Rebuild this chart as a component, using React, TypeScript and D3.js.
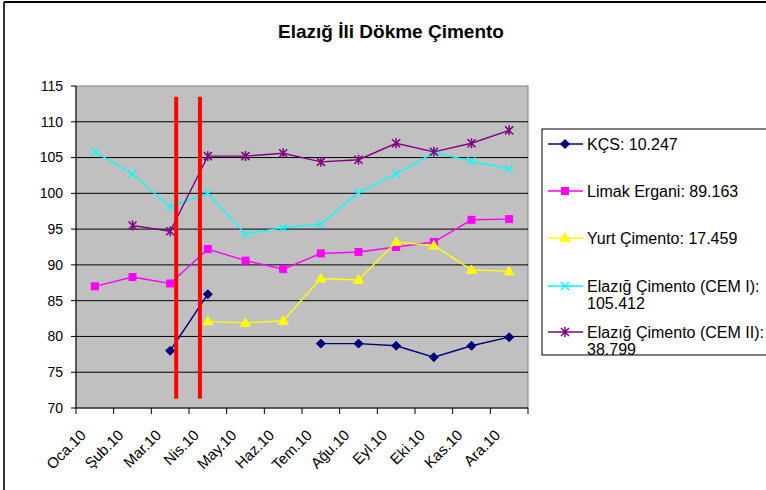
import React from 'react';
import * as d3 from 'd3';

const months = ['Oca.10', 'Şub.10', 'Mar.10', 'Nis.10', 'May.10', 'Haz.10', 'Tem.10', 'Ağu.10', 'Eyl.10', 'Eki.10', 'Kas.10', 'Ara.10'];
const yTicks = [70, 75, 80, 85, 90, 95, 100, 105, 110, 115];

const kcs = [null, null, 78.0, 85.9, null, null, 79.0, 79.0, 78.7, 77.1, 78.7, 79.9];
const limak = [87.0, 88.3, 87.4, 92.2, 90.6, 89.4, 91.6, 91.8, 92.5, 93.2, 96.3, 96.4];
const yurt = [null, null, null, 82.1, 81.9, 82.2, 88.1, 87.9, 93.2, 92.7, 89.3, 89.1];
const cem1 = [105.8, 102.7, 98.1, 100.0, 94.3, 95.2, 95.7, 100.1, 102.7, 105.7, 104.5, 103.4];
const cem2 = [null, 95.5, 94.7, 105.2, 105.2, 105.6, 104.4, 104.7, 107.0, 105.8, 107.0, 108.8];

// red markers, in category index units, and their value extent
const redLines = [2.66, 3.29];
const redExtent = [71.3, 113.5];

const series = [
  { name: 'KÇS: 10.247', values: kcs, color: '#000080', marker: 'diamond' },
  { name: 'Limak Ergani: 89.163', values: limak, color: '#FF00FF', marker: 'square' },
  { name: 'Yurt Çimento: 17.459', values: yurt, color: '#FFFF00', marker: 'triangle' },
  { name: 'Elazığ Çimento (CEM I):|105.412', values: cem1, color: '#00FFFF', marker: 'x' },
  { name: 'Elazığ Çimento (CEM II):|38.799', values: cem2, color: '#800080', marker: 'star' },
];

const Marker = ({ type, x, y, color }) => {
  if (type === 'diamond') {
    const s = 4.5;
    return <path d={`M${x},${y - s}L${x + s},${y}L${x},${y + s}L${x - s},${y}Z`} fill={color} stroke={color} />;
  }
  if (type === 'square') {
    return <rect x={x - 3.5} y={y - 3.5} width={7} height={7} fill={color} stroke={color} />;
  }
  if (type === 'triangle') {
    return <path d={`M${x},${y - 5}L${x + 5},${y + 3.5}L${x - 5},${y + 3.5}Z`} fill={color} stroke={color} />;
  }
  if (type === 'x') {
    const s = 4;
    return <path d={`M${x - s},${y - s}L${x + s},${y + s}M${x + s},${y - s}L${x - s},${y + s}`} stroke={color} strokeWidth={1.3} fill="none" />;
  }
  const s = 4;
  return <path d={`M${x - s},${y - s}L${x + s},${y + s}M${x + s},${y - s}L${x - s},${y + s}M${x},${y - s - 1}L${x},${y + s + 1}`} stroke={color} strokeWidth={1.5} fill="none" />;
};

export default function App() {
  const W = 766, H = 490;
  const plot = { left: 76, right: 528, top: 86, bottom: 408 };

  const x = d3.scaleBand().domain(months).range([plot.left, plot.right]).padding(0);
  const bw = x.bandwidth();
  const cx = (i) => x(months[i]) + bw / 2;
  const idx = d3.scaleLinear().domain([0, months.length]).range([plot.left, plot.right]);
  const y = d3.scaleLinear().domain([70, 115]).range([plot.bottom, plot.top]);

  const line = d3.line()
    .defined((d) => d != null)
    .x((d, i) => cx(i))
    .y((d) => y(d));

  const font = 'Liberation Sans, Arial, sans-serif';

  return (
    <svg width={W} height={H} style={{ position: 'absolute', left: 0, top: 0 }} fontFamily={font}>
      <rect x={0} y={0} width={W} height={H} fill="#fff" />
      <line x1={4} y1={2} x2={4} y2={H} stroke="#333" strokeWidth={2} />
      <line x1={4} y1={2} x2={W} y2={2} stroke="#000" strokeWidth={2} />

      <text x={391} y={38} textAnchor="middle" fontSize={19} fontWeight="bold">Elazığ İli Dökme Çimento</text>

      <rect x={plot.left} y={plot.top} width={plot.right - plot.left} height={plot.bottom - plot.top} fill="#C0C0C0" stroke="#808080" strokeWidth={1} />
      {yTicks.slice(1, -1).map((t) => (
        <line key={t} x1={plot.left} x2={plot.right} y1={y(t)} y2={y(t)} stroke="#000" strokeWidth={1} />
      ))}
      <line x1={plot.left} x2={plot.left} y1={plot.top} y2={plot.bottom} stroke="#000" />
      <line x1={plot.left} x2={plot.right} y1={plot.bottom} y2={plot.bottom} stroke="#000" />
      {yTicks.map((t) => (
        <g key={t}>
          <line x1={plot.left - 5} x2={plot.left} y1={y(t)} y2={y(t)} stroke="#000" />
          <text x={63} y={y(t)} dy="0.35em" textAnchor="end" fontSize={14}>{t}</text>
        </g>
      ))}
      {d3.range(months.length + 1).map((i) => (
        <line key={i} x1={idx(i)} x2={idx(i)} y1={plot.bottom} y2={plot.bottom + 6} stroke="#000" />
      ))}
      {months.map((m, i) => (
        <text key={m} transform={`translate(${cx(i) - 8},${plot.bottom + 28}) rotate(-45)`} textAnchor="end" fontSize={15}>{m}</text>
      ))}

      {series.map((s) => (
        <g key={s.name}>
          <path d={line(s.values)} fill="none" stroke={s.color} strokeWidth={1.4} />
          {s.values.map((v, i) => v == null ? null : <Marker key={i} type={s.marker} x={cx(i)} y={y(v)} color={s.color} />)}
        </g>
      ))}

      {redLines.map((r) => (
        <line key={r} x1={idx(r)} x2={idx(r)} y1={y(redExtent[1])} y2={y(redExtent[0])} stroke="#FF0000" strokeWidth={4} />
      ))}

      <rect x={542} y={129} width={W} height={226} fill="#fff" stroke="#000" strokeWidth={1} />
      {series.map((s, i) => {
        const ly = [144, 191, 238, 286, 332][i];
        const parts = s.name.split('|');
        return (
          <g key={s.name}>
            <line x1={548} x2={583} y1={ly} y2={ly} stroke={s.color} strokeWidth={1.4} />
            <Marker type={s.marker} x={565} y={ly} color={s.color} />
            <text x={587} y={ly} dy="0.36em" fontSize={16}>{parts[0]}</text>
            {parts[1] && <text x={587} y={ly + 17} dy="0.36em" fontSize={16}>{parts[1]}</text>}
          </g>
        );
      })}
    </svg>
  );
}
